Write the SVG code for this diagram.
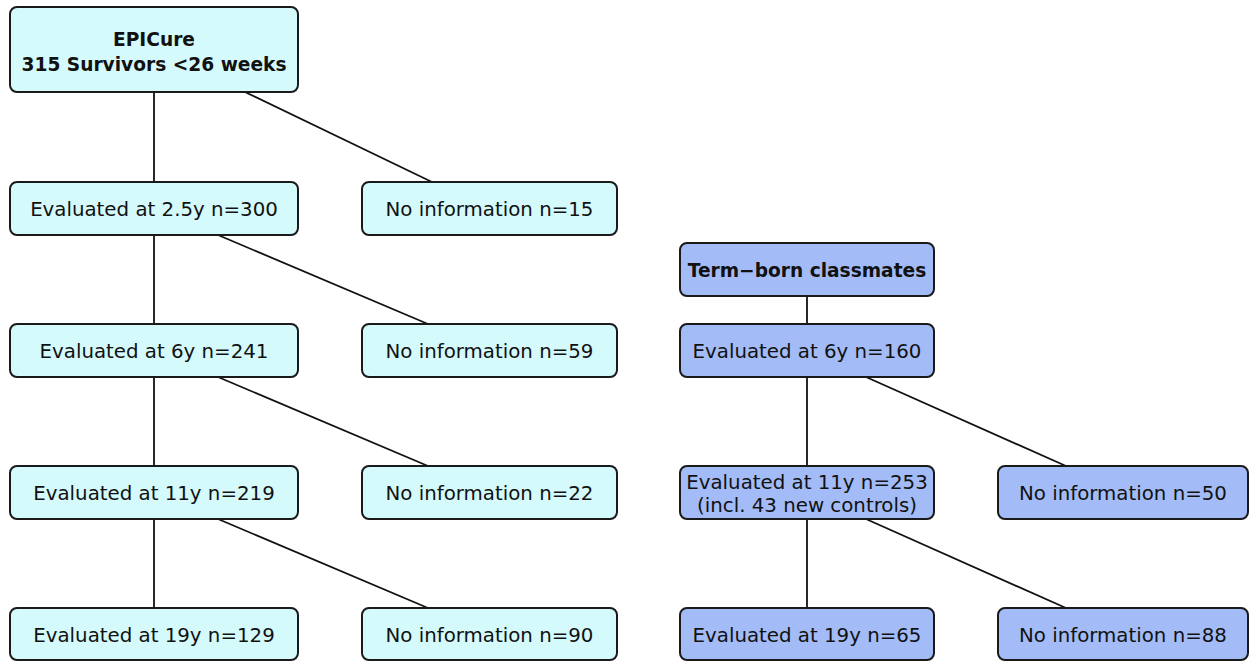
<svg xmlns="http://www.w3.org/2000/svg" width="1250" height="661" viewBox="0 0 1250 661">
<style>
.c{fill:#d5fafc;stroke:#1a1a1a;stroke-width:2}
.b{fill:#a3bcf8;stroke:#1a1a1a;stroke-width:2}
text{font-family:"DejaVu Sans",Verdana,sans-serif;font-size:19.8px;fill:#111;text-anchor:middle}
.bold{font-weight:bold;font-size:18.6px}
#connectors line{stroke:#111;stroke-width:1.8}
</style>
<rect width="1250" height="661" fill="#fff"/>
<g id="connectors">
<line x1="154" y1="92" x2="154" y2="182"/>
<line x1="245" y1="92" x2="432" y2="182"/>
<line x1="154" y1="235" x2="154" y2="324"/>
<line x1="218" y1="235" x2="428" y2="324"/>
<line x1="154" y1="377" x2="154" y2="466"/>
<line x1="218" y1="377" x2="428" y2="466"/>
<line x1="154" y1="519" x2="154" y2="608"/>
<line x1="218" y1="519" x2="428" y2="608"/>
<line x1="807" y1="296" x2="807" y2="324"/>
<line x1="807" y1="377" x2="807" y2="466"/>
<line x1="866" y1="377" x2="1066" y2="466"/>
<line x1="807" y1="519" x2="807" y2="608"/>
<line x1="866" y1="519" x2="1066" y2="608"/>
</g>
<g id="epicure"><rect class="c" x="10" y="7" width="288" height="85" rx="7"/><text class="bold" x="154" y="46">EPICure</text><text class="bold" x="154" y="71">315 Survivors &lt;26 weeks</text></g>
<g id="e25"><rect class="c" x="10" y="182" width="288" height="53" rx="7"/><text x="154" y="216">Evaluated at 2.5y n=300</text></g>
<g id="n15"><rect class="c" x="362" y="182" width="255" height="53" rx="7"/><text x="489.5" y="216">No information n=15</text></g>
<g id="e6"><rect class="c" x="10" y="324" width="288" height="53" rx="7"/><text x="154" y="358">Evaluated at 6y n=241</text></g>
<g id="n59"><rect class="c" x="362" y="324" width="255" height="53" rx="7"/><text x="489.5" y="358">No information n=59</text></g>
<g id="e11"><rect class="c" x="10" y="466" width="288" height="53" rx="7"/><text x="154" y="500">Evaluated at 11y n=219</text></g>
<g id="n22"><rect class="c" x="362" y="466" width="255" height="53" rx="7"/><text x="489.5" y="500">No information n=22</text></g>
<g id="e19"><rect class="c" x="10" y="608" width="288" height="52" rx="7"/><text x="154" y="642">Evaluated at 19y n=129</text></g>
<g id="n90"><rect class="c" x="362" y="608" width="255" height="52" rx="7"/><text x="489.5" y="642">No information n=90</text></g>
<g id="term"><rect class="b" x="680" y="243" width="254" height="53" rx="7"/><text class="bold" x="807" y="277">Term−born classmates</text></g>
<g id="t6"><rect class="b" x="680" y="324" width="254" height="53" rx="7"/><text x="807" y="358">Evaluated at 6y n=160</text></g>
<g id="t11"><rect class="b" x="680" y="466" width="254" height="53" rx="7"/><text x="807" y="489">Evaluated at 11y n=253</text><text x="807" y="512">(incl. 43 new controls)</text></g>
<g id="tn50"><rect class="b" x="998" y="466" width="250" height="53" rx="7"/><text x="1123" y="500">No information n=50</text></g>
<g id="t19"><rect class="b" x="680" y="608" width="254" height="52" rx="7"/><text x="807" y="642">Evaluated at 19y n=65</text></g>
<g id="tn88"><rect class="b" x="998" y="608" width="250" height="52" rx="7"/><text x="1123" y="642">No information n=88</text></g>
</svg>
